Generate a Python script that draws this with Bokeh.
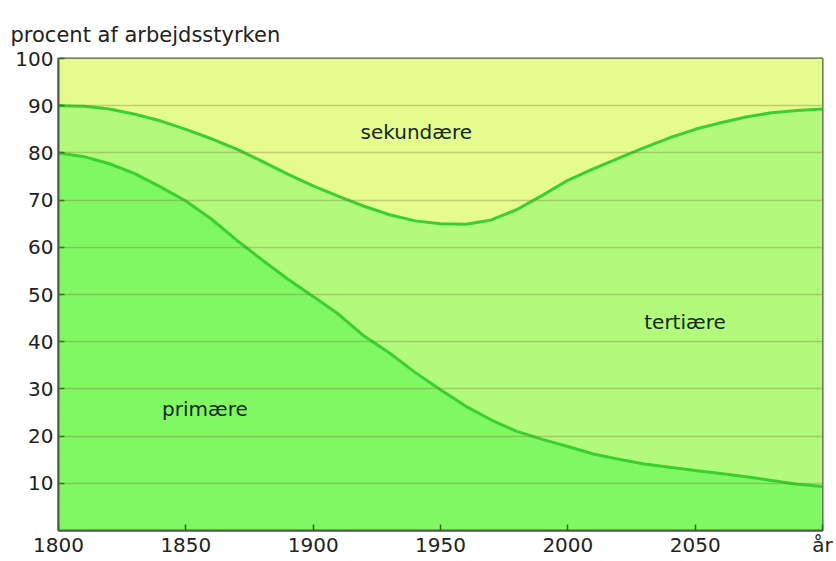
from bokeh.plotting import figure
from bokeh.models import ColumnDataSource, FixedTicker, Label, Range1d
from bokeh.embed import file_html
from bokeh.resources import INLINE

years = [1800, 1810, 1820, 1830, 1840, 1850, 1860, 1870, 1880, 1890, 1900,
         1910, 1920, 1930, 1940, 1950, 1960, 1970, 1980, 1990, 2000,
         2010, 2020, 2030, 2040, 2050, 2060, 2070, 2080, 2090, 2100]
# primære (andel af arbejdsstyrken, %)
primaere = [80, 79.2, 77.7, 75.6, 72.8, 69.8, 66, 61.5, 57.3, 53.3, 49.6,
            45.8, 41.2, 37.6, 33.5, 29.8, 26.3, 23.4, 21, 19.3, 17.8,
            16.2, 15.1, 14.1, 13.4, 12.7, 12.1, 11.4, 10.6, 9.8, 9.3]
# primære + tertiære (kumuleret, %)
prim_tert = [90, 89.9, 89.3, 88.2, 86.8, 85, 83, 80.8, 78.2, 75.5, 73,
             70.8, 68.7, 66.9, 65.6, 65, 64.9, 65.8, 68, 71, 74.2,
             76.6, 78.9, 81.1, 83.2, 85, 86.4, 87.6, 88.5, 89, 89.3]
top_line = [100] * len(years)
zero_line = [0] * len(years)

x_ticks = [1800, 1850, 1900, 1950, 2000, 2050, 2100]
x_tick_labels = {2100: "år"}
y_ticks = [10, 20, 30, 40, 50, 60, 70, 80, 90, 100]
grid_ticks = [10, 20, 30, 40, 50, 60, 70, 80, 90]

area_labels = ["primære", "tertiære", "sekundære"]
label_x = [1857.5, 2046, 1940.5]
label_y = [25.8, 44.2, 84.4]

title_text = "procent af arbejdsstyrken"

FONT = "DejaVu Sans"

src = ColumnDataSource(dict(x=years, p=primaere, pt=prim_tert,
                            top=top_line, zero=zero_line))

p = figure(width=836, height=559, output_backend="svg", toolbar_location=None,
           x_range=Range1d(1800, 2100), y_range=Range1d(0, 100),
           min_border_left=58, min_border_right=14,
           min_border_top=58, min_border_bottom=22,
           title=title_text)
p.background_fill_color = "white"
p.border_fill_color = "white"

p.title.align = "left"
p.title.offset = -48
p.title.standoff = 24
p.title.text_font = FONT
p.title.text_font_size = "21px"
p.title.text_font_style = "normal"
p.title.text_color = "#222222"

p.varea(x="x", y1="zero", y2="p", source=src, fill_color="#80f864")
p.varea(x="x", y1="p", y2="pt", source=src, fill_color="#b2fa7c")
p.varea(x="x", y1="pt", y2="top", source=src, fill_color="#e6fb8e")

p.line(x="x", y="p", source=src, line_color="#3ccf32", line_width=3)
p.line(x="x", y="pt", source=src, line_color="#3ccf32", line_width=3)

p.xgrid.visible = False
p.ygrid.ticker = FixedTicker(ticks=grid_ticks)
p.ygrid.grid_line_color = "#7a7a30"
p.ygrid.grid_line_alpha = 0.35
p.ygrid.grid_line_width = 1.5
p.ygrid.level = "annotation"

p.outline_line_color = "#505c48"
p.outline_line_width = 2
p.outline_line_alpha = 1

for ax in (p.xaxis[0], p.yaxis[0]):
    ax.axis_line_color = "#505c48"
    ax.axis_line_width = 2
    ax.major_tick_in = 6
    ax.major_tick_out = 0
    ax.major_tick_line_color = "#2a6a1a"
    ax.major_tick_line_width = 1.5
    ax.minor_tick_line_color = None
    ax.major_label_text_font = FONT
    ax.major_label_text_font_size = "20px"
    ax.major_label_text_color = "#222222"

p.xaxis.ticker = FixedTicker(ticks=x_ticks)
p.xaxis.major_label_overrides = x_tick_labels
p.yaxis.ticker = FixedTicker(ticks=y_ticks)
p.xaxis.major_label_standoff = 2
p.yaxis.major_label_standoff = 5

for txt, lx, ly in zip(area_labels, label_x, label_y):
    p.add_layout(Label(x=lx, y=ly, text=txt, text_align="center",
                       text_baseline="middle", text_font=FONT,
                       text_font_size="20px", text_color="#142814"))

open("out.html", "w").write(file_html(p, INLINE))
